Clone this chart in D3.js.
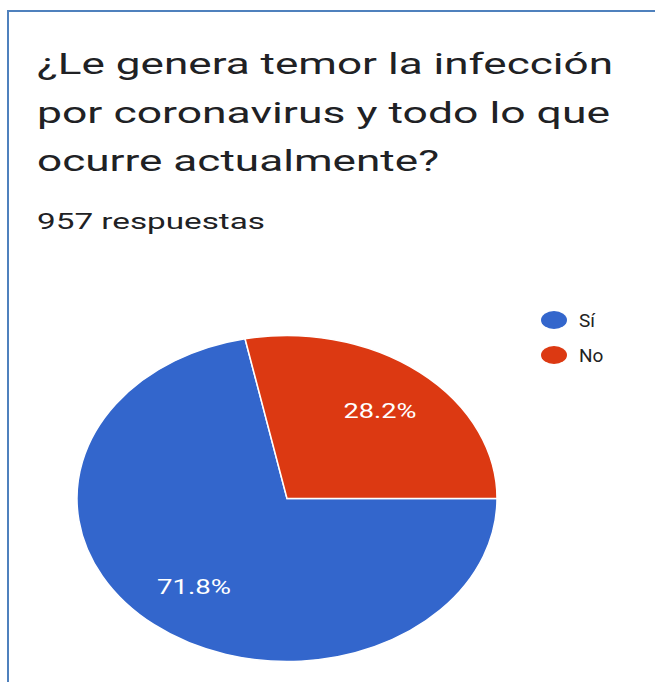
<!DOCTYPE html>
<html>
<head>
<meta charset="utf-8">
<script src="https://cdn.jsdelivr.net/npm/d3@7"></script>
<style>
  html, body { margin: 0; padding: 0; background: #fff; }
  svg { display: block; }
  text { font-family: Roboto, "Noto Sans", Arial, sans-serif; }
</style>
</head>
<body>
<svg id="chart" width="655" height="682"></svg>
<script>
// Survey answers
const categories = ["Sí", "No"];
const values = [71.8, 28.2];
const colors = ["#3366CC", "#DC3912"];
const titleLines = [
  "¿Le genera temor la infección",
  "por coronavirus y todo lo que",
  "ocurre actualmente?"
];
const responses = "957 respuestas";

const W = 655, H = 682;
const svg = d3.select("#chart");
svg.append("rect").attr("width", W).attr("height", H).attr("fill", "#fff");

// Card frame (top and left edges)
svg.append("path")
  .attr("d", `M8,${H} L8,11 L${W},11`)
  .attr("fill", "none")
  .attr("stroke", "#4F81BD")
  .attr("stroke-width", 2);

// Title, stretched to its box width
const titleWidths = [576, 573, 402];
svg.append("g").selectAll("text")
  .data(titleLines)
  .join("text")
  .attr("x", 37)
  .attr("y", (d, i) => 74 + i * 48.7)
  .attr("font-size", 29)
  .attr("fill", "#202124")
  .attr("textLength", (d, i) => titleWidths[i])
  .attr("lengthAdjust", "spacingAndGlyphs")
  .text(d => d);

svg.append("text")
  .attr("x", 37)
  .attr("y", 229)
  .attr("font-size", 22)
  .attr("fill", "#202124")
  .attr("textLength", 228)
  .attr("lengthAdjust", "spacingAndGlyphs")
  .text(responses);

// Pie, drawn as an ellipse
const cx = 287, cy = 498.5, rx = 210, ry = 163;
const k = ry / rx;
const pie = d3.pie().sort(null).value(d => d)
  .startAngle(Math.PI / 2).endAngle(Math.PI / 2 + 2 * Math.PI);
const arcs = pie(values);
const arc = d3.arc().innerRadius(0).outerRadius(rx);
const labelArc = d3.arc().innerRadius(147).outerRadius(147);

const pieG = svg.append("g")
  .attr("transform", `translate(${cx},${cy}) scale(1,${k})`);
pieG.selectAll("path")
  .data(arcs)
  .join("path")
  .attr("d", arc)
  .attr("fill", (d, i) => colors[i])
  .attr("stroke", "#fff")
  .attr("stroke-width", 1.5)
  .attr("vector-effect", "non-scaling-stroke");

const fmt = d3.format(".1f");
const labelWidths = [74, 73];
svg.append("g").selectAll("text")
  .data(arcs)
  .join("text")
  .attr("x", d => cx + labelArc.centroid(d)[0])
  .attr("y", d => cy + labelArc.centroid(d)[1] * k)
  .attr("dy", "0.36em")
  .attr("text-anchor", "middle")
  .attr("font-size", 21)
  .attr("fill", "#fff")
  .attr("textLength", (d, i) => labelWidths[i])
  .attr("lengthAdjust", "spacingAndGlyphs")
  .text(d => fmt(d.data) + "%");

// Legend
const legend = svg.append("g").selectAll("g")
  .data(categories)
  .join("g")
  .attr("transform", (d, i) => `translate(554,${320 + i * 35})`);
legend.append("ellipse")
  .attr("rx", 13)
  .attr("ry", 9)
  .attr("fill", (d, i) => colors[i]);
legend.append("text")
  .attr("x", 25)
  .attr("y", 7)
  .attr("font-size", 19)
  .attr("fill", "#222")
  .text(d => d);
</script>
</body>
</html>
